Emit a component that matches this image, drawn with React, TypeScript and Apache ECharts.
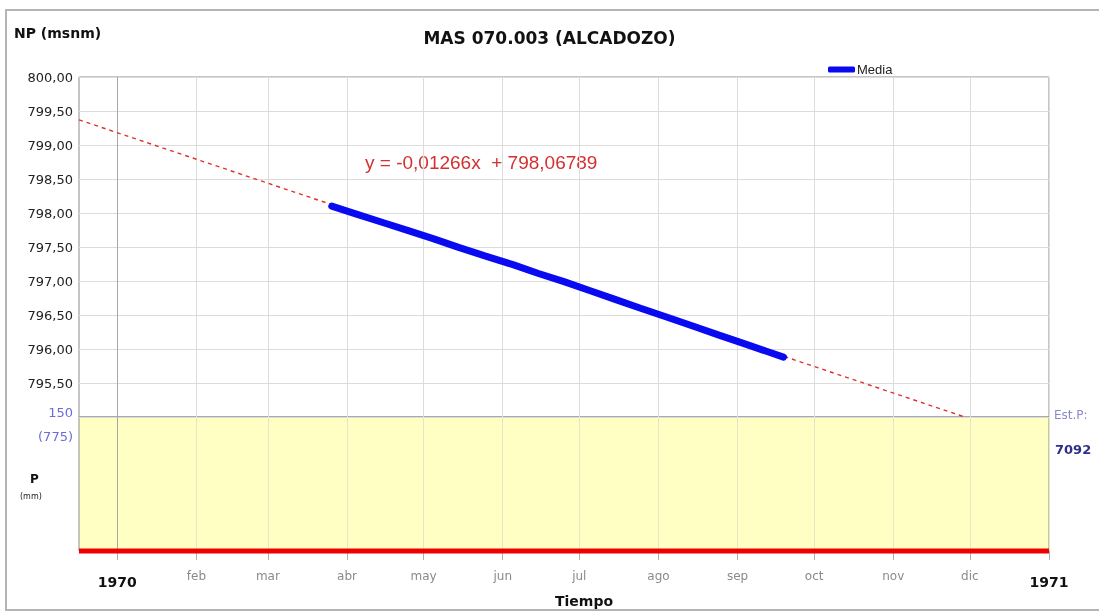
import React, { useEffect, useRef } from "react";
import * as echarts from "echarts";

// ---- data ----
const monthStarts = ["1970-01-01", "1970-02-01", "1970-03-01", "1970-04-01", "1970-05-01", "1970-06-01", "1970-07-01", "1970-08-01", "1970-09-01", "1970-10-01", "1970-11-01", "1970-12-01", "1971-01-01"];
const monthLabels = ["1970", "feb", "mar", "abr", "may", "jun", "jul", "ago", "sep", "oct", "nov", "dic", "1971"];

const mediaDates = ["1970-03-26", "1970-04-05", "1970-04-15", "1970-04-25", "1970-05-05", "1970-05-15", "1970-05-25", "1970-06-05", "1970-06-15", "1970-06-25", "1970-07-05", "1970-07-15", "1970-07-25", "1970-08-05", "1970-08-15", "1970-08-25", "1970-09-05", "1970-09-12", "1970-09-19"];
const mediaValues = [798.1, 797.98, 797.86, 797.74, 797.62, 797.49, 797.37, 797.24, 797.11, 796.99, 796.86, 796.73, 796.6, 796.46, 796.33, 796.2, 796.06, 795.97, 795.88];

const trendDates = ["1969-12-17", "1970-11-29"];
const trendValues = [799.37, 795.0];

const precipDates = ["1969-12-17", "1971-01-01"];
const precipValues = [0, 0];

const xMinDate = "1969-12-17";
const xMaxDate = "1971-01-01";
const npMin = 795;
const npMax = 800;
const npStep = 0.5;
const pMax = 150;

const DAY = 86400000;
const toDay = (s: string) => {
  const [y, m, d] = s.split("-").map(Number);
  return Date.UTC(y, m - 1, d) / DAY;
};

export default function App() {
  const ref = useRef<HTMLDivElement>(null);
  useEffect(() => {
    if (!ref.current) return;
    const chart = echarts.init(ref.current, undefined, { renderer: "svg" });
    const tickDays = monthStarts.map(toDay);
    const labelFor = (v: number) => {
      const i = tickDays.findIndex((t) => Math.abs(t - v) < 0.01);
      if (i < 0) return "";
      const l = monthLabels[i];
      return i === 0 || i === monthLabels.length - 1 ? `{y|${l}}` : `{m|${l}}`;
    };
    const xMin = toDay(xMinDate);
    const xMax = toDay(xMaxDate);
    const splitColors = tickDays.map((_, i) => (i === 0 ? "#a8a8a8" : "#dcdcdc"));
    const splitColors2 = tickDays.map((_, i) => (i === 0 ? "#a8a8a0" : "#e6e6c4"));
    const font = "DejaVu Sans";

    chart.setOption({
      animation: false,
      textStyle: { fontFamily: font },
      graphic: [
        { type: "rect", shape: { x: 6, y: 10, width: 1100, height: 600 }, style: { fill: "none", stroke: "#b4b4b4", lineWidth: 2 }, silent: true },
        { type: "text", left: 14, top: 26, style: { text: "NP (msnm)", font: `bold 14px "${font}"`, fill: "#111" } },
        { type: "text", left: 365, top: 153, style: { text: "y = -0,01266x  + 798,06789", font: `19px "Liberation Sans"`, fill: "#d43030" } },
        { type: "text", right: 1099 - 73, top: 406, style: { text: "150", font: `13px "${font}"`, fill: "#6c6cd8", align: "right" } },
        { type: "text", right: 1099 - 73, top: 430, style: { text: "(775)", font: `13px "${font}"`, fill: "#6c6cd8", align: "right" } },
        { type: "text", left: 30, top: 473, style: { text: "P", font: `bold 12px "${font}"`, fill: "#111" } },
        { type: "text", left: 20, top: 492, style: { text: "(mm)", font: `8px "${font}"`, fill: "#222" } },
        { type: "text", left: 1054, top: 409, style: { text: "Est.P:", font: `12px "${font}"`, fill: "#8a8acc" } },
        { type: "text", left: 1055, top: 443, style: { text: "7092", font: `bold 13px "${font}"`, fill: "#2e2e8c" } },
        { type: "text", left: 555, top: 594, style: { text: "Tiempo", font: `bold 14px "${font}"`, fill: "#111", align: "center" } },
      ],
      title: {
        text: "MAS 070.003 (ALCADOZO)",
        left: "center",
        top: 24,
        textStyle: { fontFamily: font, fontSize: 17, fontWeight: "bold", color: "#111" },
      },
      legend: {
        left: 823,
        top: 58,
        itemWidth: 27,
        itemHeight: 6,
        itemGap: 2,
        data: [{ name: "Media", icon: "roundRect" }],
        textStyle: { fontFamily: "Liberation Sans", fontSize: 13, color: "#222", padding: [0, 0, 0, -3] },
      },
      grid: [
        { left: 79, right: 50, top: 77, height: 340, show: true, borderColor: "#8c8c8c", borderWidth: 1, backgroundColor: "#ffffff" },
        { left: 79, right: 50, top: 417, height: 134, show: true, borderColor: "#8c8c8c", borderWidth: 1, backgroundColor: "#ffffc4" },
      ],
      xAxis: [
        {
          type: "value",
          gridIndex: 0,
          min: xMin,
          max: xMax,
          axisLine: { show: false },
          axisTick: { show: false, customValues: tickDays },
          axisLabel: { show: false, customValues: tickDays },
          splitLine: { show: true, lineStyle: { color: splitColors, width: 1 } },
        },
        {
          type: "value",
          gridIndex: 1,
          min: xMin,
          max: xMax,
          axisLine: { show: false },
          axisTick: { show: true, length: 9, lineStyle: { color: "#b0b0b0" }, customValues: tickDays },
          axisLabel: {
            show: true,
            customValues: tickDays,
            margin: 19,
            formatter: labelFor,
            rich: {
              y: { fontFamily: font, fontSize: 14, color: "#111", fontWeight: "bold", padding: [5, 0, 0, 0] },
              m: { fontFamily: font, fontSize: 12, color: "#8a8a8a" },
            },
          },
          splitLine: { show: true, lineStyle: { color: splitColors2, width: 1 } },
        },
      ],
      yAxis: [
        {
          type: "value",
          gridIndex: 0,
          min: npMin,
          max: npMax,
          interval: npStep,
          axisLine: { show: false },
          axisTick: { show: false },
          axisLabel: {
            showMinLabel: false,
            margin: 6,
            fontFamily: font,
            fontSize: 13,
            color: "#222",
            formatter: (v: number) => v.toFixed(2).replace(".", ","),
          },
          splitLine: { show: true, lineStyle: { color: "#dcdcdc" } },
        },
        {
          type: "value",
          gridIndex: 1,
          min: 0,
          max: pMax,
          axisLine: { show: false },
          axisTick: { show: false },
          axisLabel: { show: false },
          splitLine: { show: false },
        },
      ],
      series: [
        {
          name: "Tendencia",
          type: "line",
          xAxisIndex: 0,
          yAxisIndex: 0,
          data: trendDates.map((d, i) => [toDay(d), trendValues[i]]),
          symbol: "none",
          lineStyle: { color: "#e03030", width: 1.4, type: [4, 4] },
          z: 3,
        },
        {
          name: "Media",
          type: "line",
          xAxisIndex: 0,
          yAxisIndex: 0,
          data: mediaDates.map((d, i) => [toDay(d), mediaValues[i]]),
          symbol: "none",
          lineStyle: { color: "#0a0af0", width: 7, cap: "round" },
          itemStyle: { color: "#0a0af0" },
          z: 4,
        },
        {
          name: "P",
          type: "line",
          xAxisIndex: 1,
          yAxisIndex: 1,
          data: precipDates.map((d, i) => [toDay(d), precipValues[i]]),
          symbol: "none",
          clip: false,
          lineStyle: { color: "#ee0000", width: 5 },
          z: 5,
        },
      ],
    });
    return () => chart.dispose();
  }, []);
  return <div ref={ref} style={{ position: "fixed", left: 0, top: 0, width: 1099, height: 613 }} />;
}
